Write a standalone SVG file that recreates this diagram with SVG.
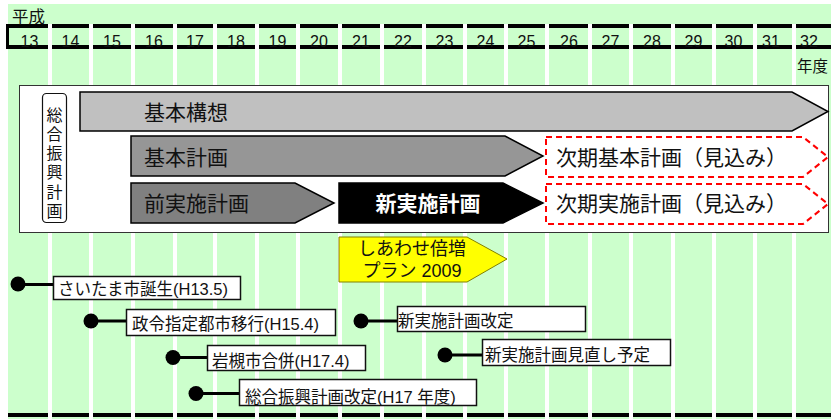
<svg xmlns="http://www.w3.org/2000/svg" width="831" height="419" viewBox="0 0 831 419">
<style>
text{font-family:"Liberation Sans","Noto Sans CJK JP",sans-serif;fill:#111}
.yr{font-size:16px;text-anchor:middle}
.bar{stroke:#000;stroke-width:1.5}
.lbl{font-size:21px}
.dash{fill:#fff;stroke:#f00;stroke-width:2;stroke-dasharray:6 4}
.ev{fill:#fff;stroke:#111;stroke-width:1.5}
.evt{font-size:16.5px}
.ln{stroke:#000;stroke-width:3}
</style>
<rect x="0" y="0" width="831" height="419" fill="#fff"/>
<rect x="8" y="4" width="823" height="415" fill="#ccffcc"/>
<g id="header-bars" fill="#000">
<rect x="6" y="24" width="825" height="4"/>
<rect x="6" y="45" width="825" height="4"/>
<rect x="6" y="24" width="3" height="25"/>
<rect x="8" y="413" width="823" height="4"/>
</g>
<g id="stripes" fill="#fff">
<rect x="48" y="24" width="4" height="395"/>
<rect x="89" y="24" width="4" height="395"/>
<rect x="131" y="24" width="4" height="395"/>
<rect x="173" y="24" width="4" height="395"/>
<rect x="213" y="24" width="4" height="395"/>
<rect x="255" y="24" width="4" height="395"/>
<rect x="296" y="24" width="4" height="395"/>
<rect x="338" y="24" width="4" height="395"/>
<rect x="380" y="24" width="4" height="395"/>
<rect x="422" y="24" width="4" height="395"/>
<rect x="463" y="24" width="4" height="395"/>
<rect x="504" y="24" width="4" height="395"/>
<rect x="545" y="24" width="4" height="395"/>
<rect x="588" y="24" width="4" height="395"/>
<rect x="629" y="24" width="4" height="395"/>
<rect x="671" y="24" width="4" height="395"/>
<rect x="712" y="24" width="4" height="395"/>
<rect x="753" y="24" width="4" height="395"/>
<rect x="792" y="24" width="4" height="395"/>
</g>
<g id="years">
<text x="12" y="23" style="font-size:16.5px">平成</text>
<text class="yr" x="29.5" y="46.5">13</text>
<text class="yr" x="70.5" y="46.5">14</text>
<text class="yr" x="112" y="46.5">15</text>
<text class="yr" x="154" y="46.5">16</text>
<text class="yr" x="195" y="46.5">17</text>
<text class="yr" x="236" y="46.5">18</text>
<text class="yr" x="277.5" y="46.5">19</text>
<text class="yr" x="319" y="46.5">20</text>
<text class="yr" x="361" y="46.5">21</text>
<text class="yr" x="403" y="46.5">22</text>
<text class="yr" x="444.5" y="46.5">23</text>
<text class="yr" x="485.5" y="46.5">24</text>
<text class="yr" x="526.5" y="46.5">25</text>
<text class="yr" x="569" y="46.5">26</text>
<text class="yr" x="610.5" y="46.5">27</text>
<text class="yr" x="652" y="46.5">28</text>
<text class="yr" x="693.5" y="46.5">29</text>
<text class="yr" x="733.5" y="46.5">30</text>
<text class="yr" x="771" y="46.5">31</text>
<text class="yr" x="809" y="46.5">32</text>
<text x="797" y="72" style="font-size:15.5px">年度</text>
</g>
<g id="plan-frame">
<rect x="19.5" y="85.5" width="809" height="147" fill="#fff" stroke="#333" stroke-width="1"/>
<rect x="42.5" y="93.5" width="24" height="129" rx="4" fill="#fff" stroke="#111" stroke-width="1.2"/>
<g style="font-size:16px;text-anchor:middle">
<text x="54.5" y="121">総</text>
<text x="54.5" y="140">合</text>
<text x="54.5" y="159">振</text>
<text x="54.5" y="178">興</text>
<text x="54.5" y="197.5">計</text>
<text x="54.5" y="217">画</text>
</g>
</g>
<g id="kihon-koso">
<polygon class="bar" points="80,92 792,92 828,111.5 792,131 80,131" fill="#c0c0c0"/>
<text class="lbl" x="144" y="120">基本構想</text>
</g>
<g id="kihon-keikaku">
<polygon class="bar" points="131,136 505,136 543,156 505,176 131,176" fill="#969696"/>
<text class="lbl" x="144" y="165">基本計画</text>
</g>
<g id="mae-jisshi">
<polygon class="bar" points="131,183 295,183 334,203 295,223 131,223" fill="#808080"/>
<text class="lbl" x="144" y="211">前実施計画</text>
</g>
<g id="shin-jisshi">
<polygon class="bar" points="339,183 503,183 543,203 503,223 339,223" fill="#000"/>
<text class="lbl" x="428" y="211" style="fill:#fff;font-weight:bold;text-anchor:middle">新実施計画</text>
</g>
<g id="jiki-kihon">
<polygon class="dash" points="546,137 803,137 828,157 803,177 546,177"/>
<text x="556" y="165" style="font-size:21px">次期基本計画（見込み）</text>
</g>
<g id="jiki-jisshi">
<polygon class="dash" points="546,184 803,184 828,204 803,224 546,224"/>
<text x="556" y="211" style="font-size:21px">次期実施計画（見込み）</text>
</g>
<g id="shiawase">
<polygon points="339,237 467,237 507,259 467,282 339,282" fill="#ffff00" stroke="#808000" stroke-width="1"/>
<text x="412" y="255" style="font-size:18px;text-anchor:middle">しあわせ倍増</text>
<text x="412" y="277" style="font-size:18px;text-anchor:middle">プラン 2009</text>
</g>
<g id="connectors">
<line class="ln" x1="18" y1="284.5" x2="53" y2="284.5"/>
<circle cx="18" cy="284" r="7.5" fill="#000"/>
<line class="ln" x1="91" y1="321" x2="126" y2="321"/>
<circle cx="91" cy="321" r="7.5" fill="#000"/>
<line class="ln" x1="173" y1="357.5" x2="207" y2="357.5"/>
<circle cx="173" cy="357.5" r="7.5" fill="#000"/>
<line class="ln" x1="196" y1="393.5" x2="239" y2="393.5"/>
<circle cx="196" cy="393.5" r="7.5" fill="#000"/>
<line class="ln" x1="361" y1="321" x2="397" y2="321"/>
<circle cx="361" cy="321" r="7.5" fill="#000"/>
<line class="ln" x1="445" y1="355" x2="482" y2="355"/>
<circle cx="445" cy="355" r="7.5" fill="#000"/>
</g>
<g id="ev-saitama">
<rect class="ev" x="53.5" y="276.5" width="187" height="23"/>
<text class="evt" x="58" y="295">さいたま市誕生(H13.5)</text>
</g>
<g id="ev-seirei">
<rect class="ev" x="126.5" y="309.5" width="209" height="26"/>
<text class="evt" x="132" y="330">政令指定都市移行(H15.4)</text>
</g>
<g id="ev-iwatsuki">
<rect class="ev" x="207.5" y="345.5" width="158" height="25"/>
<text class="evt" x="212" y="367">岩槻市合併(H17.4)</text>
</g>
<g id="ev-sogo">
<rect class="ev" x="239.5" y="379.5" width="237" height="26"/>
<text class="evt" x="245" y="403">総合振興計画改定(H17 年度)</text>
</g>
<g id="ev-shin-kaitei">
<rect class="ev" x="397.5" y="306.5" width="188" height="25"/>
<text class="evt" x="398" y="327">新実施計画改定</text>
</g>
<g id="ev-minaoshi">
<rect class="ev" x="482.5" y="339.5" width="188" height="26"/>
<text class="evt" x="485" y="361">新実施計画見直し予定</text>
</g>
</svg>
